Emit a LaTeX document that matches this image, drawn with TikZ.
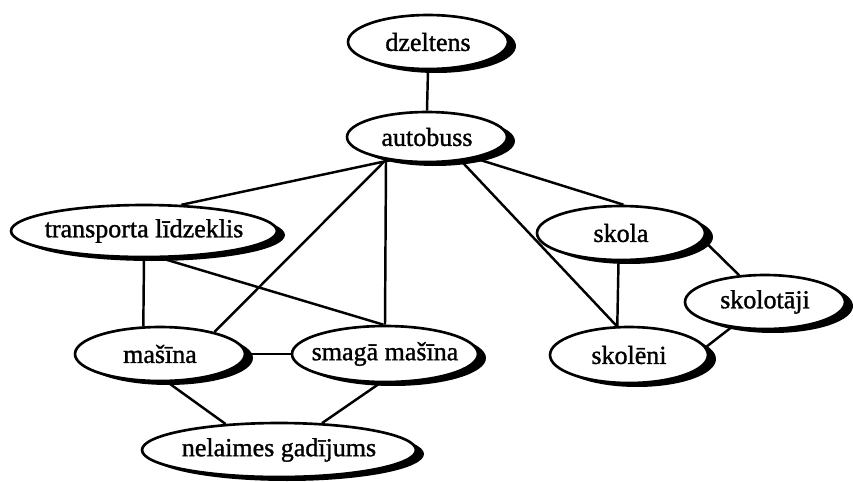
\documentclass[tikz,border=0pt]{standalone}
\usepackage{fontspec}
\setmainfont{Liberation Serif}
\newfontfamily\ellfont{Liberation Serif}[FakeBold=1.2]
\usepackage{tikz}
\usetikzlibrary{shapes.geometric,shadows}

\begin{document}
\begin{tikzpicture}[
  x=0.02cm, y=-0.02cm,
  font=\ellfont\fontsize{14.8}{17}\selectfont,
  ell/.style={draw, ellipse, line width=1.5pt, fill=white, inner sep=0pt, inner xsep=-5pt,
    drop shadow={shadow xshift=0.16cm, shadow yshift=-0.08cm, fill=black, opacity=1}},
  link/.style={line width=1.4pt}]
\useasboundingbox (0,0) rectangle (853,481);
\node[ell, minimum width=3.2cm, minimum height=1.08cm] (dzeltens) at (428,42) {dzeltens};
\node[ell, minimum width=3.2cm, minimum height=1.0cm] (autobuss) at (427,137) {autobuss};
\node[ell, minimum width=5.32cm, minimum height=1.04cm] (transports) at (144,231) {transporta līdzeklis};
\node[ell, minimum width=3.36cm, minimum height=1.08cm] (skola) at (621,233) {skola};
\node[ell, minimum width=3.2cm, minimum height=1.08cm] (skolotaji) at (765,302) {skolotāji};
\node[ell, minimum width=3.4cm, minimum height=1.08cm] (masina) at (160,354) {mašīna};
\node[ell, minimum width=3.72cm, minimum height=1.12cm] (smaga) at (385,354) {smagā mašīna};
\node[ell, minimum width=3.16cm, minimum height=1.12cm] (skoleni) at (629,355) {skolēni};
\node[ell, minimum width=5.48cm, minimum height=1.08cm] (nelaime) at (279,450) {nelaimes gadījums};
% saites
\draw[link] (dzeltens.south) -- (autobuss.north);
\draw[link] (autobuss.212) -- (transports.35);
\draw[link] (autobuss.209) -- (masina.22);
\draw[link] (autobuss.209) -- (smaga.north);
\draw[link] (autobuss.325) -- (skoleni.113);
\draw[link] (autobuss.336) -- (skola.85);
\draw[link] (transports.south) -- (masina.121);
\draw[link] (transports.302) -- (smaga.93);
\draw[link] (masina.east) -- (smaga.west);
\draw[link] (masina.285) -- (nelaime.154);
\draw[link] (smaga.260) -- (nelaime.32);
\draw[link] (skola.265) -- (skoleni.112);
\draw[link] (skola.355) -- (skolotaji.134);
\draw[link] (skolotaji.217) -- (skoleni.6);
\end{tikzpicture}
\end{document}
